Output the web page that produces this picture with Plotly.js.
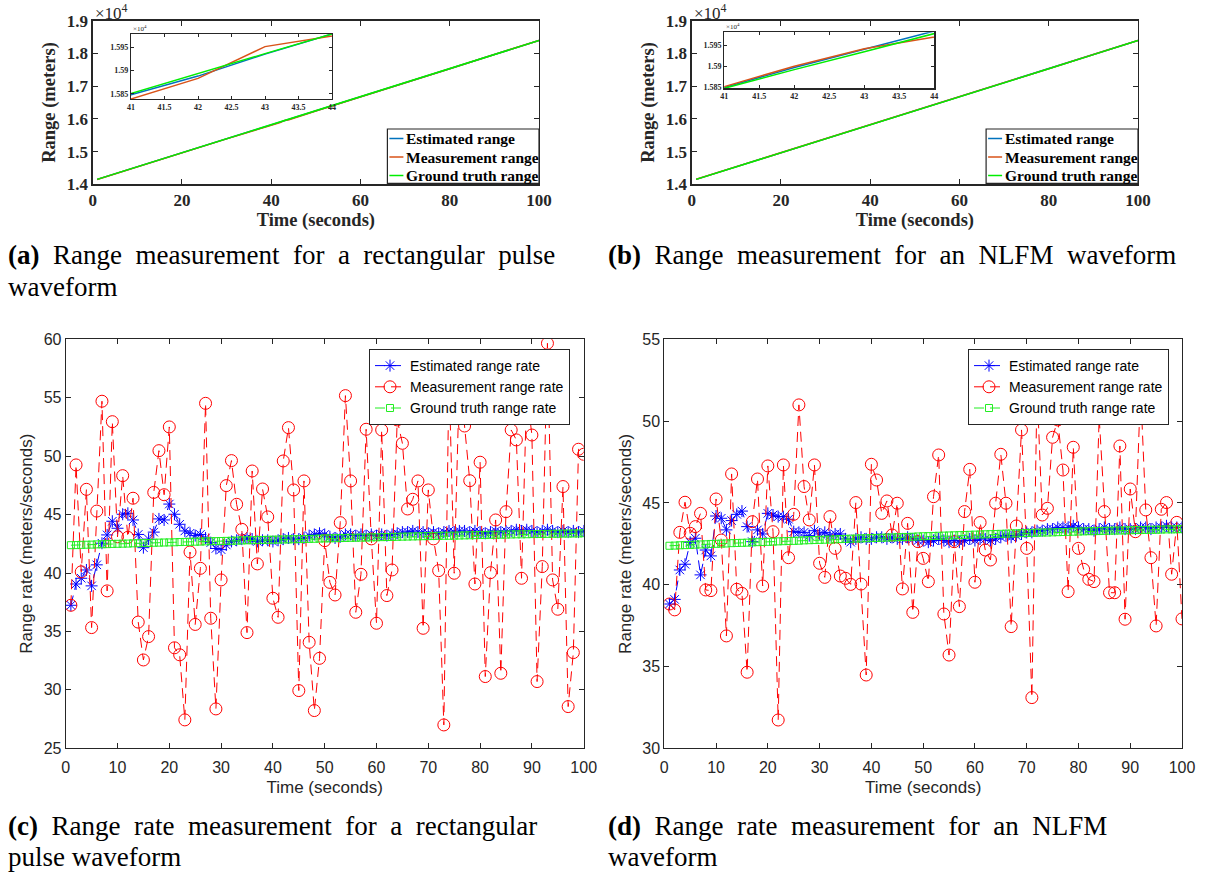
<!DOCTYPE html>
<html>
<head>
<meta charset="utf-8">
<script src="https://cdn.plot.ly/plotly-3.0.1.min.js"></script>
<style>html,body{margin:0;padding:0;background:#fff;}#chart{width:1219px;height:875px;}</style>
</head>
<body>
<div id="chart"></div>
<script>
// ---------- Data: range (panels a, b) ----------
const rangeTime   = [1, 10, 20, 30, 40, 41, 42, 43, 44, 50, 60, 70, 80, 90, 100];
const truthRangeA = [14150, 14535, 14960, 15385, 15808, 15851, 15893, 15936, 15978, 16236, 16667, 17099, 17531, 17963, 18392];
const estRangeA   = [14150, 14534, 14961, 15384, 15806, 15848, 15888, 15935, 15978, 16237, 16666, 17100, 17530, 17964, 18391];
const measRangeA  = [14148, 14538, 14957, 15388, 15800, 15839, 15883, 15951, 15974, 16240, 16662, 17103, 17527, 17967, 18395];
const truthRangeB = [14150, 14533, 14958, 15383, 15805, 15848, 15892, 15934, 15974, 16233, 16664, 17096, 17528, 17960, 18390];
const estRangeB   = [14151, 14535, 14960, 15386, 15808, 15850, 15897, 15940, 15980, 16236, 16666, 17098, 17530, 17962, 18392];
const measRangeB  = [14152, 14537, 14962, 15388, 15810, 15852, 15900, 15941, 15969, 16238, 16668, 17100, 17532, 17964, 18394];
const rangeTicks  = [14000, 15000, 16000, 17000, 18000, 19000];
const rangeTickText = ['1.4', '1.5', '1.6', '1.7', '1.8', '1.9'];
const insetTicks  = [15850, 15900, 15950];
const insetTickText = ['1.585', '1.59', '1.595'];
const insetXTicks = [41, 41.5, 42, 42.5, 43, 43.5, 44];

// ---------- Data: range rate (panels c, d) ----------
const rateTime = [1,2,3,4,5,6,7,8,9,10,11,12,13,14,15,16,17,18,19,20,21,22,23,24,25,26,27,28,29,30,
  31,32,33,34,35,36,37,38,39,40,41,42,43,44,45,46,47,48,49,50,51,52,53,54,55,56,57,58,59,60,
  61,62,63,64,65,66,67,68,69,70,71,72,73,74,75,76,77,78,79,80,81,82,83,84,85,86,87,88,89,90,
  91,92,93,94,95,96,97,98,99,100];
const estRateC = [37.24,39.06,39.55,40.26,38.9,40.7,42.55,43.26,44.43,43.83,
  45.03,45.11,44.54,43.3,42.17,42.9,43.5,44.63,44.54,45.9,
  45.03,44.17,43.6,43.4,43.2,43.3,43.0,42.6,42.1,42.0,
  42.4,42.7,42.8,42.9,43.0,42.9,42.7,42.8,42.8,42.7,
  42.8,42.9,43.0,42.9,42.9,43.0,43.2,43.3,43.4,43.3,
  43.1,43.0,43.1,43.3,43.3,43.2,43.3,43.2,43.3,43.2,
  43.3,43.2,43.3,43.4,43.5,43.5,43.6,43.5,43.5,43.4,
  43.5,43.4,43.5,43.6,43.5,43.6,43.6,43.5,43.6,43.5,
  43.4,43.5,43.6,43.5,43.6,43.6,43.7,43.6,43.7,43.6,
  43.5,43.6,43.7,43.6,43.5,43.6,43.5,43.6,43.5,43.6];
const measRateC = [37.24,49.25,40.1,47.16,35.33,45.3,54.7,38.47,52.95,43.1,
  48.33,43.05,46.4,35.8,32.56,34.56,46.9,50.47,46.7,52.5,
  33.6,33.0,27.43,41.8,35.6,40.4,54.52,36.13,28.37,39.41,
  47.48,49.62,45.88,43.74,34.9,48.73,40.78,47.19,44.8,37.84,
  36.21,49.59,52.44,47.11,29.94,47.88,34.07,28.23,32.7,42.77,
  39.2,38.12,44.31,55.18,47.88,36.64,39.89,52.3,42.92,35.7,
  52.24,38.07,40.26,53.1,51.1,45.48,46.31,47.88,35.27,47.11,
  42.92,40.2,27.0,57.0,39.98,56.5,52.58,47.9,39.06,49.48,
  31.14,40.03,44.54,31.42,45.25,52.24,51.39,39.55,55.5,51.81,
  30.71,40.55,59.66,39.41,36.9,47.4,28.57,33.19,50.59,50.16];
const estRateD = [38.82,39.1,40.9,41.25,42.59,42.84,40.6,42.12,41.76,44.2,
  44.06,43.35,43.92,44.3,44.5,43.55,42.63,43.35,43.1,44.36,
  44.26,44.16,44.16,44.0,43.24,43.2,43.2,43.0,43.3,43.1,
  43.2,43.0,43.1,43.1,42.8,42.6,42.8,42.9,42.8,42.8,
  42.9,42.9,42.8,42.9,42.8,42.8,42.9,42.8,42.7,42.7,
  42.6,42.7,42.8,42.7,42.6,42.7,42.6,42.7,42.8,42.7,
  42.8,42.8,42.7,42.8,42.9,43.0,42.9,43.0,43.1,43.2,
  43.2,43.3,43.3,43.4,43.4,43.5,43.5,43.5,43.6,43.5,
  43.4,43.4,43.3,43.4,43.5,43.4,43.4,43.5,43.4,43.4,
  43.4,43.5,43.5,43.4,43.5,43.5,43.6,43.5,43.5,43.5];
const measRateD = [38.82,38.46,43.2,45.04,43.14,43.55,44.36,39.68,39.64,45.24,
  42.73,36.87,46.77,39.72,39.47,34.65,43.85,46.46,39.92,47.26,
  43.24,31.73,47.32,41.65,44.3,50.99,46.0,43.96,47.32,41.31,
  40.45,44.16,42.22,40.53,40.39,40.02,45.02,40.04,34.48,47.36,
  46.4,44.36,45.12,43.04,44.98,39.74,43.75,38.31,42.63,41.61,
  40.19,45.38,47.93,38.21,35.7,42.63,38.66,44.47,47.05,40.15,
  43.8,42.12,41.51,44.98,47.97,44.98,37.44,43.59,49.46,42.22,
  33.1,52.0,44.26,44.67,49.01,50.07,47.01,39.58,48.4,42.22,
  40.94,40.33,40.19,50.23,44.47,39.51,39.51,48.48,37.89,45.85,
  43.24,52.0,44.57,41.65,37.48,44.61,45.02,40.64,43.81,37.91];
const truthRate = [42.38,42.39,42.41,42.42,42.43,42.45,42.46,42.47,42.49,42.50,
  42.51,42.52,42.54,42.55,42.56,42.57,42.59,42.60,42.61,42.62,
  42.63,42.65,42.66,42.67,42.68,42.69,42.71,42.72,42.73,42.74,
  42.75,42.76,42.77,42.79,42.80,42.81,42.82,42.83,42.84,42.85,
  42.86,42.87,42.88,42.89,42.90,42.91,42.92,42.93,42.95,42.96,
  42.97,42.98,42.99,43.00,43.01,43.02,43.03,43.04,43.05,43.06,
  43.07,43.08,43.09,43.10,43.11,43.12,43.13,43.14,43.15,43.16,
  43.17,43.18,43.19,43.19,43.20,43.21,43.22,43.23,43.24,43.25,
  43.26,43.27,43.27,43.28,43.29,43.30,43.31,43.31,43.32,43.33,
  43.34,43.34,43.35,43.36,43.36,43.37,43.38,43.38,43.39,43.40];

const rangeNames = ['Estimated range', 'Measurement range', 'Ground truth range'];
const rateNames  = ['Estimated range rate', 'Measurement range rate', 'Ground truth range rate'];
const captions = {
  a1: '<b>(a)</b> Range measurement for a rectangular pulse', a2: 'waveform',
  b1: '<b>(b)</b> Range measurement for an NLFM waveform',
  c1: '<b>(c)</b> Range rate measurement for a rectangular', c2: 'pulse waveform',
  d1: '<b>(d)</b> Range rate measurement for an NLFM', d2: 'waveform'
};

// ---------- Styling helpers ----------
const W = 1219, H = 875;
const px = x => x / W;
const py = y => 1 - y / H;
const SERIF = 'Liberation Serif, Times New Roman, serif';
const SANS = 'Liberation Sans, Arial, sans-serif';
const rangeColors = ['#0072BD', '#D95319', '#00EE00'];

function rangeTraces(est, meas, truth, xa, ya) {
  return [est, meas, truth].map((yy, i) => ({
    x: rangeTime, y: yy, name: rangeNames[i], type: 'scatter', mode: 'lines', xaxis: xa, yaxis: ya,
    showlegend: false, line: {color: rangeColors[i], width: 1.5}
  }));
}
function rateTraces(est, meas, xa, ya, legend) {
  return [
    {x: rateTime, y: est, name: rateNames[0], type: 'scatter', mode: 'lines+markers', xaxis: xa, yaxis: ya, legend: legend,
     line: {color: '#0000FF', width: 1, dash: '10px,6px'}, marker: {symbol: 'asterisk-open', size: 10, color: '#0000FF', line: {color: '#0000FF', width: 1}}},
    {x: rateTime, y: meas, name: rateNames[1], type: 'scatter', mode: 'lines+markers', xaxis: xa, yaxis: ya, legend: legend,
     line: {color: '#FF0000', width: 1, dash: '10px,6px'}, marker: {symbol: 'circle-open', size: 12, color: '#FF0000', line: {color: '#FF0000', width: 1}}},
    {x: rateTime, y: truthRate, name: rateNames[2], type: 'scatter', mode: 'lines+markers', xaxis: xa, yaxis: ya, legend: legend,
     line: {color: '#22EE22', width: 1, dash: '10px,6px'}, marker: {symbol: 'square-open', size: 7, color: '#22EE22', line: {color: '#22EE22', width: 1}}}
  ];
}

const data = [].concat(
  rangeTraces(estRangeA, measRangeA, truthRangeA, 'x', 'y'),
  rangeTraces(estRangeA, measRangeA, truthRangeA, 'x2', 'y2'),
  rangeTraces(estRangeB, measRangeB, truthRangeB, 'x3', 'y3'),
  rangeTraces(estRangeB, measRangeB, truthRangeB, 'x4', 'y4'),
  rateTraces(estRateC, measRateC, 'x5', 'y5', 'legend'),
  rateTraces(estRateD, measRateD, 'x6', 'y6', 'legend2')
);

function axBase(extra) {
  return Object.assign({
    showline: true, mirror: 'ticks', linecolor: '#262626', linewidth: 1,
    ticks: 'inside', ticklen: 5, tickcolor: '#262626', tickwidth: 1,
    showgrid: false, zeroline: false, fixedrange: true, automargin: false
  }, extra);
}
const serifTick = {family: SERIF, size: 17, color: '#262626', weight: 'bold'};
const serifTitle = {family: SERIF, size: 18.5, color: '#262626', weight: 'bold'};
const insetTick = {family: SERIF, size: 8, color: '#262626', weight: 'bold'};
const sansTick = {family: SANS, size: 16, color: '#262626'};
const sansTitle = {family: SANS, size: 17, color: '#262626'};

function mainRangeX(d) { return axBase({domain: d, range: [0, 100], tickvals: [0, 20, 40, 60, 80, 100], tickfont: serifTick, linewidth: 1.3,
  title: {text: 'Time (seconds)', font: serifTitle, standoff: 2}}); }
function mainRangeY(d) { return axBase({domain: d, range: [14000, 19000], tickvals: rangeTicks, ticktext: rangeTickText, tickfont: serifTick, linewidth: 1.3,
  title: {text: 'Range (meters)', font: serifTitle, standoff: 6}}); }
function insetX(d, anchor) { return axBase({domain: d, anchor: anchor, range: [41, 44], tickvals: insetXTicks, tickfont: insetTick, ticklen: 3, linewidth: 1.2}); }
function insetY(d, anchor, r) { return axBase({domain: d, anchor: anchor, range: r, tickvals: insetTicks, ticktext: insetTickText, tickfont: insetTick, ticklen: 3, linewidth: 1.2}); }

const yTop = [py(184.3), py(20.6)];
const yBot = [py(748.3), py(339.3)];

const layout = {
  width: W, height: H,
  margin: {l: 0, r: 0, t: 0, b: 0},
  paper_bgcolor: '#ffffff', plot_bgcolor: '#ffffff',
  xaxis: Object.assign(mainRangeX([px(92.7), px(539)]), {anchor: 'y'}),
  yaxis: Object.assign(mainRangeY(yTop), {anchor: 'x'}),
  xaxis2: insetX([px(131), px(332)], 'y2'),
  yaxis2: insetY([py(99), py(34)], 'x2', [15839, 15978]),
  xaxis3: Object.assign(mainRangeX([px(691.7), px(1138)]), {anchor: 'y3'}),
  yaxis3: Object.assign(mainRangeY(yTop), {anchor: 'x3'}),
  xaxis4: insetX([px(724.3), px(934.3)], 'y4'),
  yaxis4: insetY([py(88.3), py(32.3)], 'x4', [15848, 15980]),
  xaxis5: axBase({domain: [px(65.7), px(583.7)], anchor: 'y5', range: [0, 100], dtick: 10, tick0: 0, tickfont: sansTick, ticklabelstandoff: 4,
    title: {text: 'Time (seconds)', font: sansTitle, standoff: 6}}),
  yaxis5: axBase({domain: yBot, anchor: 'x5', range: [25, 60], dtick: 5, tick0: 25, tickfont: sansTick,
    title: {text: 'Range rate (meters/seconds)', font: sansTitle, standoff: 6}}),
  xaxis6: axBase({domain: [px(664.3), px(1182)], anchor: 'y6', range: [0, 100], dtick: 10, tick0: 0, tickfont: sansTick, ticklabelstandoff: 4,
    title: {text: 'Time (seconds)', font: sansTitle, standoff: 6}}),
  yaxis6: axBase({domain: yBot, anchor: 'x6', range: [30, 55], dtick: 5, tick0: 30, tickfont: sansTick,
    title: {text: 'Range rate (meters/seconds)', font: sansTitle, standoff: 6}}),
  legend: {x: px(570), xanchor: 'right', y: py(349), yanchor: 'top', bgcolor: '#fff', bordercolor: '#262626', borderwidth: 1,
    font: {family: SANS, size: 14, color: '#000'}, itemwidth: 30, tracegroupgap: 0},
  legend2: {x: px(1169), xanchor: 'right', y: py(349), yanchor: 'top', bgcolor: '#fff', bordercolor: '#262626', borderwidth: 1,
    font: {family: SANS, size: 14, color: '#000'}, itemwidth: 30, tracegroupgap: 0},
  shapes: [],
  annotations: []
};

function addText(text, x, y, font, opts) {
  layout.annotations.push(Object.assign({
    text: text, xref: 'paper', yref: 'paper', x: px(x), y: py(y), xanchor: 'left', yanchor: 'middle',
    showarrow: false, align: 'left', font: font
  }, opts || {}));
}

// Legends for the range panels (MATLAB-style compact boxes)
function rangeLegend(left, right, top, bottom) {
  layout.shapes.push({type: 'rect', xref: 'paper', yref: 'paper', x0: px(left), x1: px(right), y0: py(bottom), y1: py(top),
    line: {color: '#262626', width: 1.2}, fillcolor: '#ffffff', layer: 'above'});
  const rows = [top + 9.5, top + 28, top + 46.5];
  rangeNames.forEach((name, i) => {
    layout.shapes.push({type: 'line', xref: 'paper', yref: 'paper', x0: px(left + 2), x1: px(left + 16), y0: py(rows[i]), y1: py(rows[i]),
      line: {color: rangeColors[i], width: 1.5}, layer: 'above'});
    addText(name, left + 16.5, rows[i], {family: SERIF, size: 15.5, color: '#000', weight: 'bold'});
  });
}
rangeLegend(387.4, 539, 129, 183.3);
rangeLegend(986.1, 1138, 129, 183.3);

// exponent labels
const expFont = {family: SERIF, size: 17, color: '#262626'};
const expFontSmall = {family: SERIF, size: 7, color: '#262626'};
addText('×10<sup>4</sup>', 93, 12, expFont);
addText('×10<sup>4</sup>', 692, 12, expFont);
addText('×10<sup>4</sup>', 131, 28, expFontSmall);
addText('×10<sup>4</sup>', 724, 27, expFontSmall);

// captions (en spaces emulate the wider inter-word spacing of the original typesetting)
const capFont = {family: SERIF, size: 27, color: '#000'};
const wide = s => s.replace(/ (?![^<]*>)/g, '\u2002');
addText(wide(captions.a1), 6, 255, capFont);
addText(captions.a2, 6, 287, capFont);
addText(wide(captions.b1), 606, 255, capFont);
addText(wide(captions.c1), 6, 826, capFont);
addText(captions.c2, 6, 857, capFont);
addText(wide(captions.d1), 606, 826, capFont);
addText(captions.d2, 606, 857, capFont);

Plotly.newPlot('chart', data, layout, {staticPlot: true, displayModeBar: false});
</script>
</body>
</html>
